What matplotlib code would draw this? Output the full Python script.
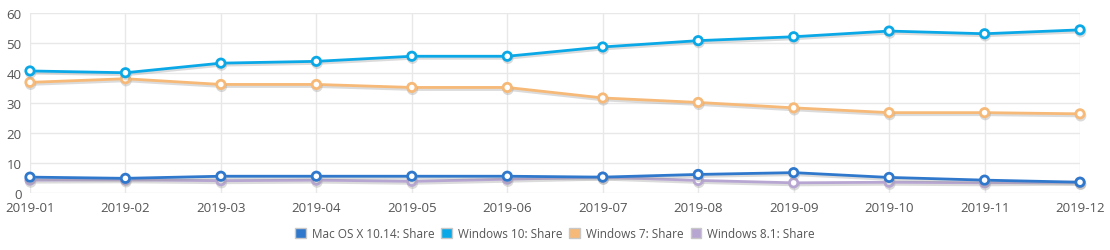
import numpy as np
import matplotlib.pyplot as plt
import matplotlib.patheffects as pe
from matplotlib.patches import Patch

plt.rcParams['font.family'] = ['Open Sans', 'DejaVu Sans']

# 月份
months = ['2019-01', '2019-02', '2019-03', '2019-04', '2019-05', '2019-06',
          '2019-07', '2019-08', '2019-09', '2019-10', '2019-11', '2019-12']
# 各系统份额
mac_1014 = [5.3, 4.9, 5.6, 5.6, 5.6, 5.6, 5.3, 6.2, 6.8, 5.2, 4.3, 3.6]
win10 = [40.7, 40.1, 43.3, 43.9, 45.6, 45.6, 48.7, 50.8, 52.1, 54.0, 53.1, 54.4]
win7 = [36.9, 38.1, 36.2, 36.2, 35.2, 35.2, 31.7, 30.2, 28.4, 26.8, 26.8, 26.4]
win81 = [4.3, 4.4, 4.1, 4.3, 3.9, 4.6, 5.3, 4.2, 3.4, 3.6, 3.4, 3.6]

series = [
    ('Mac OS X 10.14: Share', mac_1014, '#2f78cc'),
    ('Windows 10: Share', win10, '#0aa8e6'),
    ('Windows 7: Share', win7, '#f6b977'),
    ('Windows 8.1: Share', win81, '#b8a6d2'),
]

fig = plt.figure(figsize=(11.1, 2.51), dpi=100)
ax = fig.add_axes([0.027, 0.227, 0.946, 0.717])

x = np.arange(len(months))
shadow = [pe.SimpleLineShadow(offset=(0.5, -1.5), shadow_color='#999999', alpha=0.35),
          pe.Normal()]
# 先画份额小的系统, 再画上面的线
for name, vals, col in [series[3], series[0], series[2], series[1]]:
    ax.plot(x, vals, color=col, lw=2, marker='o', ms=6, mfc='white',
            mec=col, mew=2, path_effects=shadow, zorder=3, clip_on=False)

ax.set_xlim(0, len(months) - 1)
ax.set_ylim(0, 60)
ax.set_xticks(x)
ax.set_xticklabels(months)
ax.set_yticks(range(0, 61, 10))
ax.grid(True, color='#e8e8e8', lw=1)
ax.set_axisbelow(True)
for s in ax.spines.values():
    s.set_visible(False)
ax.tick_params(length=0, labelsize=9.5, colors='#555555')
ax.tick_params(axis='x', pad=6)
ax.tick_params(axis='y', pad=6)

handles = [Patch(facecolor=c, edgecolor='#c8c8c8', label=n) for n, v, c in series]
leg = fig.legend(handles=handles, loc='center', bbox_to_anchor=(0.5, 0.065), ncol=4,
                 frameon=False, fontsize=8.5, handlelength=0.9, handleheight=0.9,
                 handletextpad=0.5, columnspacing=0.6)
for t in leg.get_texts():
    t.set_color('#555555')

fig.savefig('out.png', dpi=100)
